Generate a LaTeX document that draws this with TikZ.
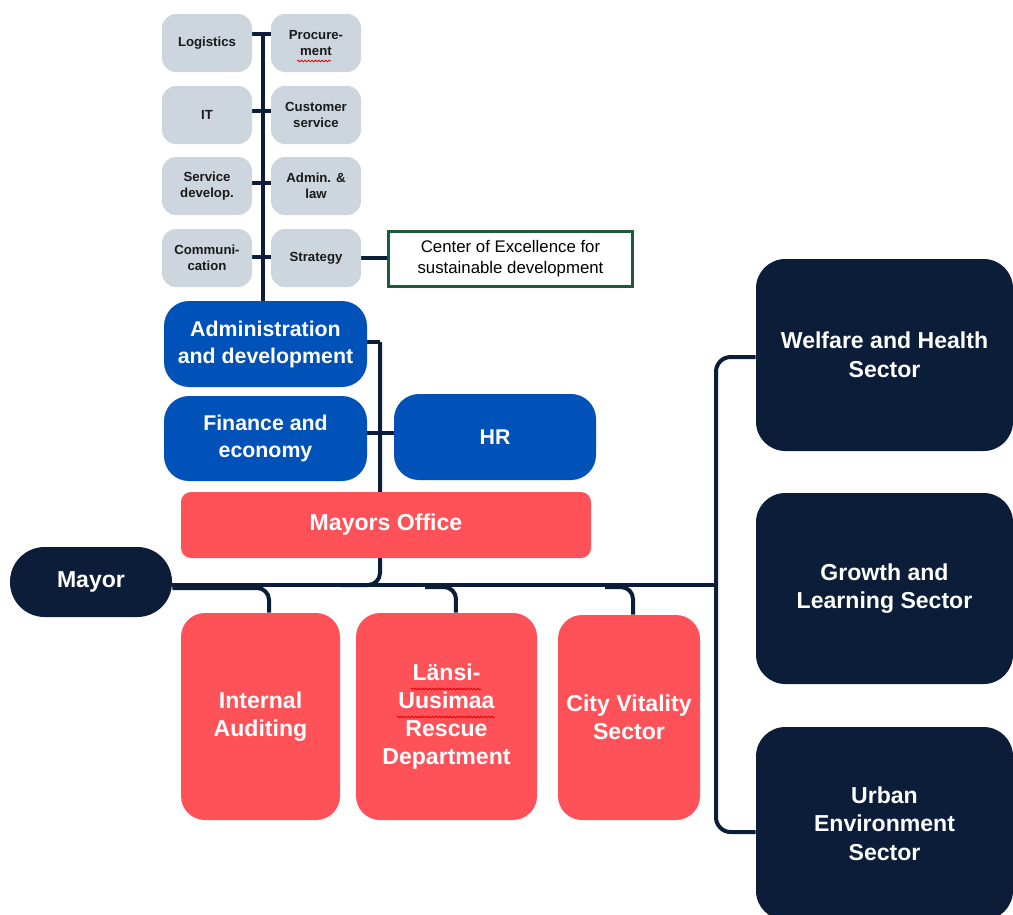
\documentclass[tikz,border=0pt]{standalone}
\usepackage{fontspec}
\setmainfont{Liberation Sans}
\usetikzlibrary{backgrounds,decorations.pathmorphing}
\definecolor{navy}{HTML}{0B1D39}
\definecolor{grayb}{HTML}{CDD5DE}
\definecolor{blueb}{HTML}{0051B8}
\definecolor{redb}{HTML}{FF5158}
\definecolor{greenb}{HTML}{1D5C3B}
\definecolor{txtdark}{HTML}{1A1A1A}
\begin{document}
\begin{tikzpicture}[x=0.75pt,y=-0.75pt,
  smallbox/.style={fill=grayb, rounded corners=10.5pt, minimum width=67.5pt, minimum height=43.5pt, inner sep=0pt, align=center, text=txtdark, font=\bfseries\fontsize{9.9}{12}\selectfont},
  bluebox/.style={fill=blueb, rounded corners=18.75pt, inner sep=0pt, align=center, text=white, font=\bfseries\fontsize{16}{20.25}\selectfont},
  redbox/.style={fill=redb, rounded corners=18pt, inner sep=0pt, align=center, text=white, font=\bfseries\fontsize{17.3}{21}\selectfont},
  darkbox/.style={fill=navy, rounded corners=22pt, inner sep=0pt, align=center, text=white, font=\bfseries\fontsize{17.3}{21.5}\selectfont, minimum width=192.75pt},
  conn/.style={draw=navy, line width=3pt},
  squig/.style={draw=red!85!black, line width=0.6pt, decorate, decoration={snake, amplitude=0.6pt, segment length=2.6pt}}
]
\useasboundingbox (0,0) rectangle (1013,914);

% small grey boxes
\node[smallbox] (logistics) at (207,43) {Logistics};
\node[smallbox] (procurement) at (316,43) {Procure-\\ment};
\node[smallbox] (it) at (207,115) {IT};
\node[smallbox] (customer) at (316,115) {Customer\\service};
\node[smallbox] (servdev) at (207,186) {Service\\develop.};
\node[smallbox] (adminlaw) at (316,186) {Admin. \&\\law};
\node[smallbox] (communication) at (207,258) {Communi-\\cation};
\node[smallbox] (strategy) at (316,258) {Strategy};

\node[draw=greenb, line width=2.25pt, fill=white, minimum width=183pt, minimum height=41.5pt, inner sep=0pt, align=center, font=\fontsize{12.6}{15.75}\selectfont] (coe) at (510.5,259) {Center of Excellence for\\sustainable development};

% blue boxes
\node[bluebox, minimum width=152.25pt, minimum height=64.5pt] (admin) at (265.5,344) {Administration\\and development};
\node[bluebox, minimum width=152.25pt, minimum height=63.75pt] (finance) at (265.5,438.5) {Finance and\\economy};
\node[bluebox, minimum width=151.5pt, minimum height=64.5pt] (hr) at (495,437) {HR};

% red boxes
\node[redbox, rounded corners=7.5pt, minimum width=307.5pt, minimum height=49.5pt] (office) at (386,525) {Mayors Office};
\node[redbox, minimum width=119.25pt, minimum height=155.25pt] (ia) at (260.5,716.5) {Internal\\Auditing};
\node[redbox, minimum width=135.75pt, minimum height=155.25pt] (lansi) at (446.5,716.5) {Länsi-\\Uusimaa\\Rescue\\Department};
\node[redbox, minimum width=106.5pt, minimum height=153.75pt] (cv) at (629,717.5) {City Vitality\\Sector};

% dark boxes
\node[darkbox, rounded corners=26pt, minimum width=121.5pt, minimum height=52.5pt] (mayor) at (91,582) {Mayor};
\node[darkbox, minimum height=144pt] (welfare) at (884.5,355) {Welfare and Health\\Sector};
\node[darkbox, minimum height=143.25pt] (growth) at (884.5,588.5) {Growth and\\Learning Sector};
\node[darkbox, minimum height=144.75pt] (urban) at (884.5,823.5) {Urban\\Environment\\Sector};

% spell-check marks
\draw[squig] (297,61) -- (331,61);
\draw[squig] (411,689) -- (481,689);
\draw[squig] (397,717) -- (495,717);

\begin{scope}[on background layer]
  \coordinate (spine) at (263,34);
  \coordinate (ajog) at (380,0);
  \coordinate (mline) at (0,585);
  \coordinate (bus) at (716,0);
  % upper spine
  \draw[conn] (spine) -- (spine |- admin.north);
  \draw[conn] (logistics.east |- spine) -- (procurement.west |- spine);
  \draw[conn] ([yshift=3pt]it.east) -- ([yshift=3pt]customer.west);
  \draw[conn] ([yshift=2.25pt]servdev.east) -- ([yshift=2.25pt]adminlaw.west);
  \draw[conn] ([yshift=0.75pt]communication.east) -- ([yshift=0.75pt]strategy.west);
  \draw[conn] (strategy.east) -- (coe.west |- strategy.east);
  % admin spine down to the main line
  \draw[conn] ([yshift=1.5pt]admin.east) -- ([yshift=1.5pt]admin.east -| ajog);
  \draw[conn, rounded corners=9pt] ([yshift=1.5pt]admin.east -| ajog) -- (ajog |- mline) -- ++(-40,0);
  \draw[conn] (finance.east |- 0,433) -- (hr.west |- 0,433);
  % main line
  \draw[conn] (mayor.east |- mline) -- (bus |- mline);
  \draw[conn, rounded corners=11pt] ([yshift=-1.5pt]welfare.west) -| (bus |- mline) |- ([yshift=-6.4pt]urban.west);
  % branches
  \draw[conn, rounded corners=9pt] (mayor.east |- 0,588) -| ([xshift=6.4pt]ia.north);
  \draw[conn, rounded corners=9pt] (425,587) -| ([xshift=7.1pt]lansi.north);
  \draw[conn, rounded corners=9pt] (605,587) -| ([xshift=3pt]cv.north);
\end{scope}
\end{tikzpicture}
\end{document}
